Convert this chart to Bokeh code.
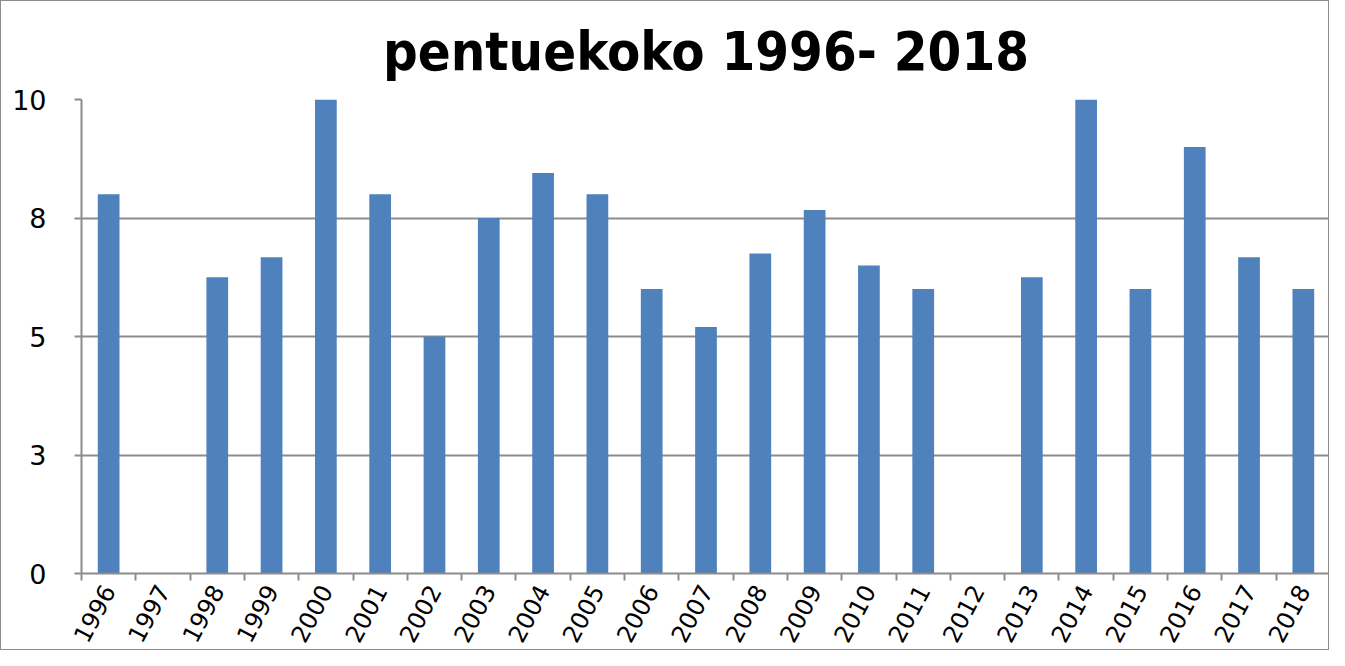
import math
from bokeh.plotting import figure
from bokeh.models import FixedTicker, ColumnDataSource, Range1d
from bokeh.embed import file_html
from bokeh.resources import INLINE

years = ["1996", "1997", "1998", "1999", "2000", "2001", "2002", "2003", "2004",
         "2005", "2006", "2007", "2008", "2009", "2010", "2011", "2012", "2013",
         "2014", "2015", "2016", "2017", "2018"]
values = [8.0, 0, 6.25, 6.67, 10.0, 8.0, 5.0, 7.5, 8.45, 8.0, 6.0, 5.2, 6.75,
          7.67, 6.5, 6.0, 0, 6.25, 10.0, 6.0, 9.0, 6.67, 6.0]
y_ticks = [0, 2.5, 5, 7.5, 10]
y_tick_labels = ["0", "3", "5", "8", "10"]
title_text = "pentuekoko 1996- 2018"

n = len(years)
x_pos = list(range(n))
source = ColumnDataSource(dict(x=x_pos, year=years, value=values))

GRAY = "#8c8c8c"

p = figure(width=1329, height=650, output_backend="svg", toolbar_location=None,
           x_range=Range1d(-0.5, n - 0.5), y_range=Range1d(0, 10),
           min_border_left=80, min_border_right=0, min_border_top=98,
           min_border_bottom=78)
p.styles = {"border": "1px solid " + GRAY}
p.outline_line_color = None
p.background_fill_color = "white"
p.border_fill_color = "white"

p.title.text = title_text
p.title.align = "center"
p.title.vertical_align = "top"
p.title.text_font = "DejaVu Sans Condensed"
p.title.text_font_style = "bold"
p.title.text_font_size = "54px"
p.title.text_color = "black"
p.title.standoff = 30

p.vbar(x="x", top="value", bottom=0, width=0.4, source=source,
       fill_color="#4F81BD", line_color=None)

# y axis
p.yaxis.ticker = FixedTicker(ticks=y_ticks)
p.yaxis.major_label_overrides = dict(zip(y_ticks, y_tick_labels))
p.yaxis.axis_line_color = GRAY
p.yaxis.axis_line_width = 2
p.yaxis.major_tick_line_color = GRAY
p.yaxis.major_tick_line_width = 2
p.yaxis.major_tick_out = 7
p.yaxis.major_tick_in = 0
p.yaxis.minor_tick_line_color = None
p.yaxis.major_label_text_font = "DejaVu Sans"
p.yaxis.major_label_text_font_size = "27px"
p.yaxis.major_label_text_color = "black"
p.yaxis.major_label_standoff = 28

# x axis: labels at category centres, tick marks between categories
p.xaxis.ticker = FixedTicker(ticks=x_pos, minor_ticks=[i - 0.5 for i in range(n + 1)])
p.xaxis.major_label_overrides = dict(zip(x_pos, years))
p.xaxis.axis_line_color = GRAY
p.xaxis.axis_line_width = 2
p.xaxis.major_tick_line_color = None
p.xaxis.major_tick_out = 0
p.xaxis.major_tick_in = 0
p.xaxis.minor_tick_line_color = GRAY
p.xaxis.minor_tick_line_width = 2
p.xaxis.minor_tick_out = 7
p.xaxis.minor_tick_in = 0
p.xaxis.major_label_orientation = 1.08
p.xaxis.major_label_text_font = "DejaVu Sans"
p.xaxis.major_label_text_font_size = "24px"
p.xaxis.major_label_text_color = "black"
p.xaxis.major_label_standoff = 6

p.xgrid.visible = False
p.ygrid.grid_line_color = GRAY
p.ygrid.grid_line_width = 2

open("out.html", "w").write(file_html(p, INLINE))
